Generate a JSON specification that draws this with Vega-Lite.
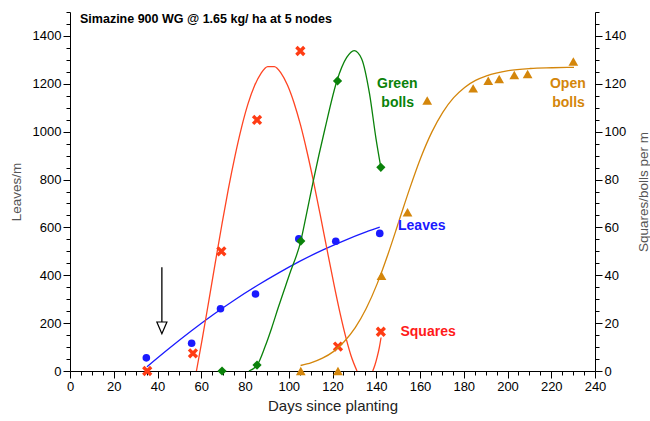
{
  "$schema": "https://vega.github.io/schema/vega-lite/v6.json",
  "width": 525,
  "height": 359,
  "autosize": "none",
  "padding": {"left": 70, "top": 12, "right": 55, "bottom": 50},
  "config": {
    "font": "Liberation Sans",
    "view": {"stroke": null},
    "axis": {"grid": false, "domainColor": "black", "tickColor": "black", "labelColor": "black", "labelFont": "Liberation Sans", "titleFont": "Liberation Sans", "titleFontWeight": "normal", "labelFlush": false, "labelOverlap": false, "labelBound": false}
  },
  "title": {"text": "Simazine 900 WG @ 1.65 kg/ ha at 5 nodes", "anchor": "start", "frame": "group", "fontSize": 12.5, "fontWeight": "bold", "color": "black", "dx": 10, "offset": -10.5, "dy": 13.5, "baseline": "alphabetic"},
  "datasets": {
    "leaves_fit": [
      {"day": 35.2, "v": 18}, {"day": 45.4, "v": 95}, {"day": 55.4, "v": 167}, {"day": 65.4, "v": 235},
      {"day": 75.4, "v": 298}, {"day": 85.4, "v": 356}, {"day": 95.4, "v": 410}, {"day": 105.4, "v": 460},
      {"day": 115.4, "v": 505}, {"day": 125.4, "v": 545}, {"day": 135.4, "v": 581}, {"day": 141.6, "v": 601}
    ],
    "leaves_pts": [
      {"day": 34.9, "v": 55}, {"day": 55.6, "v": 116}, {"day": 68.8, "v": 260}, {"day": 84.8, "v": 322},
      {"day": 104.6, "v": 552}, {"day": 121.5, "v": 542}, {"day": 141.6, "v": 575}
    ],
    "arrow": [{"day": 42, "top": 434, "bottom": 205, "head": 180}],
    "squares_fit": [
      {"seg": "a", "day": 57.8, "v": 0}, {"seg": "a", "day": 60.4, "v": 13.1}, {"seg": "a", "day": 63.4, "v": 29},
      {"seg": "a", "day": 66.4, "v": 45.2}, {"seg": "a", "day": 69.4, "v": 61}, {"seg": "a", "day": 72.4, "v": 76.1},
      {"seg": "a", "day": 75.4, "v": 89.7}, {"seg": "a", "day": 78.4, "v": 101.7}, {"seg": "a", "day": 81.4, "v": 111.7},
      {"seg": "a", "day": 84.4, "v": 119.3}, {"seg": "a", "day": 87.4, "v": 124.5}, {"seg": "a", "day": 90.4, "v": 127.2},
      {"seg": "a", "day": 93.4, "v": 127.2}, {"seg": "a", "day": 96.4, "v": 124.6}, {"seg": "a", "day": 99.4, "v": 119.5},
      {"seg": "a", "day": 102.4, "v": 112.1}, {"seg": "a", "day": 105.4, "v": 102.7}, {"seg": "a", "day": 108.4, "v": 91.4},
      {"seg": "a", "day": 111.4, "v": 78.8}, {"seg": "a", "day": 114.4, "v": 65.2}, {"seg": "a", "day": 117.4, "v": 51.2},
      {"seg": "a", "day": 120.4, "v": 37.4}, {"seg": "a", "day": 123.4, "v": 24.4}, {"seg": "a", "day": 126.4, "v": 13},
      {"seg": "a", "day": 128.4, "v": 6.6}, {"seg": "a", "day": 131.2, "v": 0},
      {"seg": "b", "day": 138.4, "v": 0}, {"seg": "b", "day": 139.4, "v": 2.5}, {"seg": "b", "day": 140.4, "v": 5.8},
      {"seg": "b", "day": 141.4, "v": 9.8}, {"seg": "b", "day": 142.2, "v": 14}
    ],
    "squares_pts": [
      {"day": 35.3, "v": 0}, {"day": 56.2, "v": 7.4}, {"day": 69.2, "v": 50}, {"day": 85.5, "v": 104.9},
      {"day": 105.3, "v": 133.7}, {"day": 122.5, "v": 10.2}, {"day": 142.1, "v": 16.4}
    ],
    "green_fit": [
      {"day": 81.8, "v": 0}, {"day": 85.6, "v": 2.5}, {"day": 89.1, "v": 10}, {"day": 92.2, "v": 18},
      {"day": 95.2, "v": 26.5}, {"day": 100.4, "v": 40.5}, {"day": 105.5, "v": 54.3}, {"day": 108.2, "v": 66},
      {"day": 111.3, "v": 79.8}, {"day": 116.5, "v": 101}, {"day": 122.0, "v": 121.2}, {"day": 126.5, "v": 131},
      {"day": 129.9, "v": 133.9}, {"day": 133.3, "v": 130.5}, {"day": 136.9, "v": 116}, {"day": 139.9, "v": 97},
      {"day": 142.1, "v": 85.1}
    ],
    "green_pts": [
      {"day": 69.5, "v": 0}, {"day": 85.5, "v": 2.5}, {"day": 105.5, "v": 54.3}, {"day": 122.3, "v": 121.2}, {"day": 142.1, "v": 85.1}
    ],
    "open_fit": [
      {"day": 105.4, "v": 2.3}, {"day": 110.4, "v": 3.5}, {"day": 115.4, "v": 5.35}, {"day": 120.4, "v": 8.1},
      {"day": 125.4, "v": 12.3}, {"day": 130.4, "v": 18.1}, {"day": 135.4, "v": 26.1}, {"day": 140.4, "v": 36.4},
      {"day": 145.4, "v": 48.9}, {"day": 150.4, "v": 62.7}, {"day": 155.4, "v": 76.5}, {"day": 160.4, "v": 89.2},
      {"day": 165.4, "v": 99.8}, {"day": 170.4, "v": 108.1}, {"day": 175.4, "v": 114.2}, {"day": 180.4, "v": 118.5},
      {"day": 185.4, "v": 121.4}, {"day": 190.4, "v": 123.3}, {"day": 200.4, "v": 125.5}, {"day": 210.4, "v": 126.4},
      {"day": 220.4, "v": 126.7}, {"day": 230.4, "v": 126.9}
    ],
    "open_pts": [
      {"day": 105.5, "v": 0}, {"day": 122.5, "v": 0}, {"day": 142.4, "v": 39.8}, {"day": 154.3, "v": 66.3},
      {"day": 163.3, "v": 113}, {"day": 184.3, "v": 118.1}, {"day": 191.2, "v": 121.3}, {"day": 196.2, "v": 122},
      {"day": 203.1, "v": 123.7}, {"day": 209.2, "v": 124.1}, {"day": 230.1, "v": 129.3}
    ],
    "labels": [
      {"series": "Green bolls", "text": "Green", "day": 149.6, "v": 119.9},
      {"series": "Green bolls", "text": "bolls", "day": 149.8, "v": 111.8},
      {"series": "Open bolls", "text": "Open", "day": 227.6, "v": 119.8},
      {"series": "Open bolls", "text": "bolls", "day": 227.9, "v": 111.9},
      {"series": "Leaves", "text": "Leaves", "day": 160.8, "v": 60.7},
      {"series": "Squares", "text": "Squares", "day": 163.7, "v": 16.4}
    ]
  },
  "layer": [
    {
      "data": {"name": "leaves_fit"},
      "mark": {"type": "line", "color": "#1a1aff", "strokeWidth": 1.3, "interpolate": "monotone"},
      "encoding": {
        "x": {"field": "day", "type": "quantitative", "scale": {"domain": [0, 240]},
              "axis": {"orient": "bottom", "values": [0, 20, 40, 60, 80, 100, 120, 140, 160, 180, 200, 220, 240], "format": "d", "tickSize": 7, "labelFontSize": 13, "labelPadding": 2, "title": "Days since planting", "titleFontSize": 15, "titleColor": "#222", "titlePadding": 5}},
        "y": {"field": "v", "type": "quantitative", "scale": {"domain": [0, 1500]},
              "axis": {"orient": "left", "values": [0, 200, 400, 600, 800, 1000, 1200, 1400], "format": "d", "tickSize": 7, "labelFontSize": 13, "labelPadding": 2, "title": "Leaves/m", "titleFontSize": 13.5, "titleColor": "#555", "titlePadding": 9}}
      }
    },
    {
      "data": {"name": "leaves_pts"},
      "mark": {"type": "point", "shape": "circle", "filled": true, "color": "#1a1aff", "size": 58, "opacity": 1},
      "encoding": {
        "x": {"field": "day", "type": "quantitative", "scale": {"domain": [0, 240]},
              "axis": {"orient": "bottom", "values": [5, 10, 15, 25, 30, 35, 45, 50, 55, 65, 70, 75, 85, 90, 95, 105, 110, 115, 125, 130, 135, 145, 150, 155, 165, 170, 175, 185, 190, 195, 205, 210, 215, 225, 230, 235], "tickSize": 4, "labels": false, "domain": false, "title": null}},
        "y": {"field": "v", "type": "quantitative", "scale": {"domain": [0, 1500]},
              "axis": {"orient": "left", "values": [50, 100, 150, 250, 300, 350, 450, 500, 550, 650, 700, 750, 850, 900, 950, 1050, 1100, 1150, 1250, 1300, 1350, 1450, 1500], "tickSize": 4, "labels": false, "domain": false, "title": null}}
      }
    },
    {
      "data": {"name": "arrow"},
      "mark": {"type": "rule", "color": "black", "strokeWidth": 1.3},
      "encoding": {
        "x": {"field": "day", "type": "quantitative", "scale": {"domain": [0, 240]}, "axis": null},
        "y": {"field": "top", "type": "quantitative", "scale": {"domain": [0, 1500]}, "axis": null},
        "y2": {"field": "bottom"}
      }
    },
    {
      "data": {"name": "arrow"},
      "mark": {"type": "point", "shape": "M-0.85,-1L0.85,-1L0,1Z", "filled": false, "fill": "white", "stroke": "black", "strokeWidth": 1.2, "size": 140, "opacity": 1},
      "encoding": {
        "x": {"field": "day", "type": "quantitative", "scale": {"domain": [0, 240]}, "axis": null},
        "y": {"field": "head", "type": "quantitative", "scale": {"domain": [0, 1500]}, "axis": null}
      }
    },
    {
      "data": {"name": "squares_fit"},
      "mark": {"type": "line", "color": "#ff4422", "strokeWidth": 1.3, "interpolate": "monotone"},
      "encoding": {
        "x": {"field": "day", "type": "quantitative", "scale": {"domain": [0, 240]}, "axis": null},
        "y": {"field": "v", "type": "quantitative", "scale": {"domain": [0, 150]},
              "axis": {"orient": "right", "values": [0, 20, 40, 60, 80, 100, 120, 140], "format": "d", "tickSize": 7, "labelFontSize": 13, "labelPadding": 2, "title": "Squares/bolls per m", "titleFontSize": 13.5, "titleColor": "#555", "titleAngle": 270, "titlePadding": 25}},
        "detail": {"field": "seg"}
      }
    },
    {
      "data": {"name": "squares_pts"},
      "mark": {"type": "point", "shape": "M-1,-1L1,1M-1,1L1,-1", "filled": false, "stroke": "#ff3c14", "strokeWidth": 3.4, "size": 62, "opacity": 1},
      "encoding": {
        "x": {"field": "day", "type": "quantitative", "scale": {"domain": [0, 240]}, "axis": null},
        "y": {"field": "v", "type": "quantitative", "scale": {"domain": [0, 150]},
              "axis": {"orient": "right", "values": [5, 10, 15, 25, 30, 35, 45, 50, 55, 65, 70, 75, 85, 90, 95, 105, 110, 115, 125, 130, 135, 145, 150], "tickSize": 4, "labels": false, "domain": false, "title": null}}
      }
    },
    {
      "data": {"name": "green_fit"},
      "mark": {"type": "line", "color": "#0a820a", "strokeWidth": 1.3, "interpolate": "monotone"},
      "encoding": {
        "x": {"field": "day", "type": "quantitative", "scale": {"domain": [0, 240]}, "axis": null},
        "y": {"field": "v", "type": "quantitative", "scale": {"domain": [0, 150]}, "axis": null}
      }
    },
    {
      "data": {"name": "green_pts"},
      "mark": {"type": "point", "shape": "diamond", "filled": true, "color": "#0a820a", "size": 85, "opacity": 1},
      "encoding": {
        "x": {"field": "day", "type": "quantitative", "scale": {"domain": [0, 240]}, "axis": null},
        "y": {"field": "v", "type": "quantitative", "scale": {"domain": [0, 150]}, "axis": null}
      }
    },
    {
      "data": {"name": "open_fit"},
      "mark": {"type": "line", "color": "#d4860b", "strokeWidth": 1.3, "interpolate": "monotone"},
      "encoding": {
        "x": {"field": "day", "type": "quantitative", "scale": {"domain": [0, 240]}, "axis": null},
        "y": {"field": "v", "type": "quantitative", "scale": {"domain": [0, 150]}, "axis": null}
      }
    },
    {
      "data": {"name": "open_pts"},
      "mark": {"type": "point", "shape": "triangle-up", "filled": true, "color": "#d4860b", "size": 95, "opacity": 1},
      "encoding": {
        "x": {"field": "day", "type": "quantitative", "scale": {"domain": [0, 240]}, "axis": null},
        "y": {"field": "v", "type": "quantitative", "scale": {"domain": [0, 150]}, "axis": null}
      }
    },
    {
      "data": {"name": "labels"},
      "mark": {"type": "text", "fontWeight": "bold", "fontSize": 14, "align": "center", "baseline": "middle"},
      "encoding": {
        "x": {"field": "day", "type": "quantitative", "scale": {"domain": [0, 240]}, "axis": null},
        "y": {"field": "v", "type": "quantitative", "scale": {"domain": [0, 150]}, "axis": null},
        "text": {"field": "text"},
        "color": {"field": "series", "type": "nominal", "scale": {"domain": ["Leaves", "Squares", "Green bolls", "Open bolls"], "range": ["#1a1aff", "#ff1a1a", "#0a820a", "#d4860b"]}, "legend": null}
      }
    }
  ],
  "resolve": {"scale": {"x": "independent", "y": "independent", "color": "independent"}, "axis": {"x": "independent", "y": "independent"}}
}
